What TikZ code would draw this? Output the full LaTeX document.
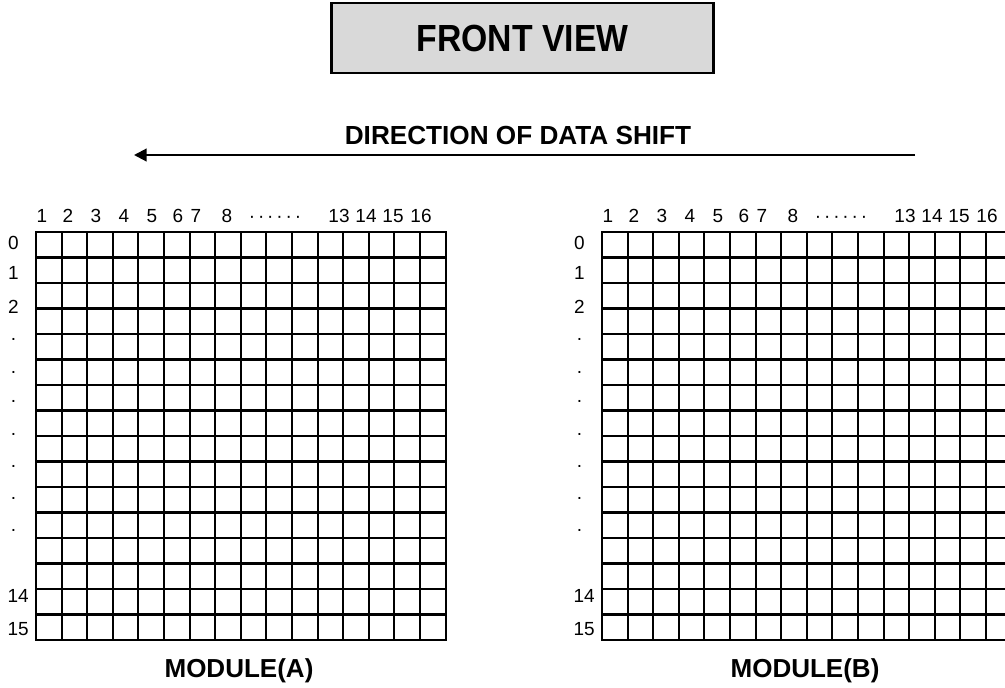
\documentclass[tikz,border=0pt]{standalone}
\usepackage{fontspec}
\setmainfont{Liberation Sans}
\usetikzlibrary{arrows.meta,positioning}
\definecolor{boxgray}{HTML}{D9D9D9}
\tikzset{
  gridline/.style={line width=1.45pt,line cap=rect},
  titlebox/.style={draw,line width=1.8pt,fill=boxgray,minimum width=9.55cm,minimum height=1.75cm,font=\bfseries\fontsize{24}{24}\selectfont},
  heading/.style={inner sep=0pt,font=\bfseries\fontsize{18.6}{18.6}\selectfont},
  modlabel/.style={inner sep=0pt,font=\bfseries\fontsize{18.5}{18.5}\selectfont},
  colnum/.style={inner sep=0pt,anchor=base,font=\fontsize{13.5}{13.5}\selectfont},
  shiftarrow/.style={line width=1.5pt,-{Triangle[length=9pt,width=9pt]}}
}
\begin{document}
\begin{tikzpicture}[x=0.025cm,y=-0.025cm]
  \useasboundingbox (0,0) rectangle (1005,687);
  \clip (0,0) rectangle (1005,687);
  % title and shift direction
  \node[titlebox] (title) at (522.5,38) {\scalebox{1}[1.12]{FRONT VIEW}};
  \node[heading] (shift) at (518,135) {DIRECTION OF DATA SHIFT};
  \coordinate (shift east) at (915,155);
  \coordinate (shift west) at (134,155);
  \draw[shiftarrow] (shift east) -- (shift west);
  % the two modules
  \foreach \m/\dx in {A/36,B/602} {
    \begin{scope}[shift={(\dx,0)}]
      \foreach \i in {0,...,16}
        \draw[gridline] (25.6*\i,232) -- (25.6*\i,640);
      \foreach \j in {0,...,16}
        \draw[gridline] (0,232+25.5*\j) -- (409.6,232+25.5*\j);
      % column numbers
      \foreach \x/\t in {6/1,32/2,60/3,88/4,116/5,142/6,160/7,191/8,303/13,330/14,357/15,385/16}
        \node[colnum] (\m-col\t) at (\x,222.5) {\t};
      \foreach \k in {0,...,5}
        \node[colnum] (\m-cdot\k) at (216+9.2*\k,222.5) {·};
      % row numbers
      \foreach \y/\t in {249/0,279/1,313/2}
        \node[colnum] (\m-row\t) at (-22.5,\y) {\t};
      \foreach \y [count=\k] in {339,372,401,434,466,498,530}
        \node[colnum] (\m-rdot\k) at (-22.5,\y+1) {.};
      \foreach \y/\t in {602/14,635/15}
        \node[colnum,anchor=base east] (\m-row\t) at (-7,\y) {\t};
      \node[modlabel] (mod\m) at (203,671) {MODULE(\m)};
    \end{scope}
  }
\end{tikzpicture}
\end{document}
